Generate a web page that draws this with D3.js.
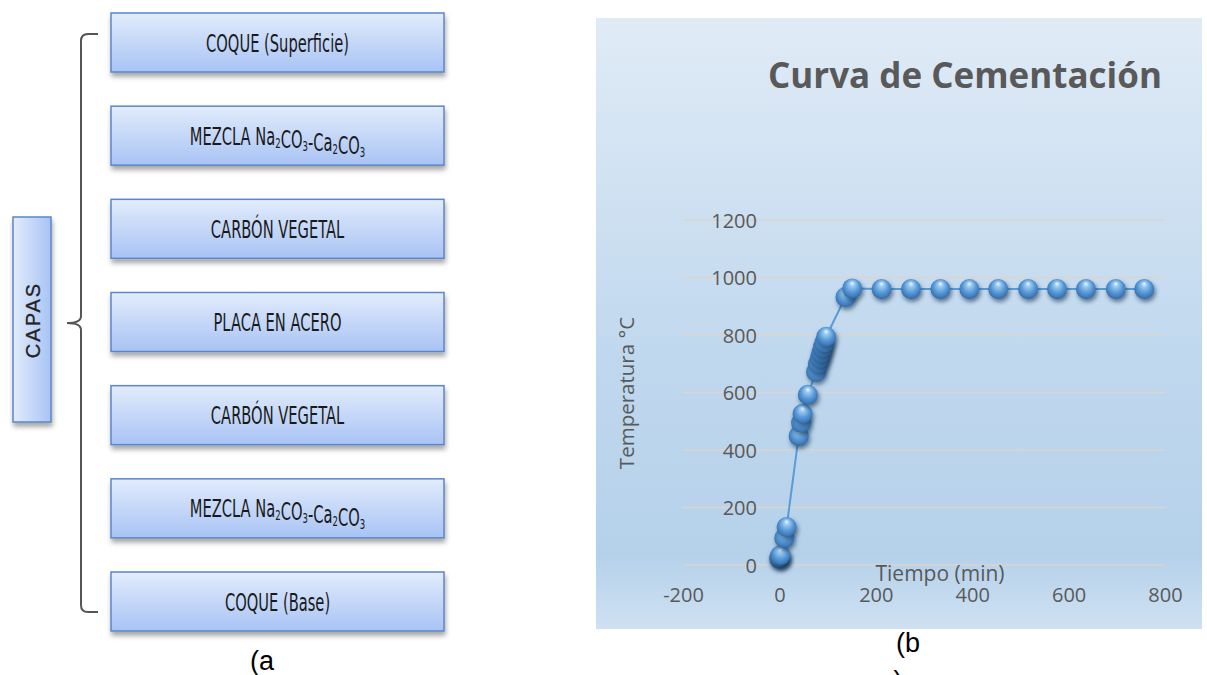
<!DOCTYPE html>
<html><head><meta charset="utf-8">
<script src="https://cdn.jsdelivr.net/npm/d3@7"></script>
<style>
html,body{margin:0;padding:0;background:#fff;}
svg{display:block;}
</style></head>
<body>
<svg id="c" width="1207" height="675"></svg>
<script>
// ---- data ----
const capas = ["COQUE (Superficie)", "MEZCLA Na2CO3-Ca2CO3", "CARBÓN VEGETAL", "PLACA EN ACERO", "CARBÓN VEGETAL", "MEZCLA Na2CO3-Ca2CO3", "COQUE (Base)"];
const grupo = "CAPAS";
const tiempo = [0, 0, 2, 10, 15, 40, 45, 48, 59, 76, 80, 84, 87, 90, 93, 97, 137, 151, 212, 273, 334, 394, 454, 516, 576, 636, 698, 757];
const temperatura = [22, 28, 34, 94, 132, 449, 495, 526, 592, 672, 700, 720, 738, 756, 773, 794, 932, 962, 960, 960, 960, 960, 960, 960, 960, 960, 960, 960];
const xTicks = [-200, 0, 200, 400, 600, 800];
const yTicks = [0, 200, 400, 600, 800, 1000, 1200];
const titulo = "Curva de Cementación";
const xTitulo = "Tiempo (min)";
const yTitulo = "Temperatura °C";
const etiquetaA = "(a";
const etiquetaB = "(b";

const svg = d3.select("#c");
const defs = svg.append("defs");

// box gradient
const bg = defs.append("linearGradient").attr("id","boxg").attr("x1",0).attr("y1",0).attr("x2",0).attr("y2",1);
bg.append("stop").attr("offset","0%").attr("stop-color","#e2ecfc");
bg.append("stop").attr("offset","100%").attr("stop-color","#a8c3f4");
const bgh = defs.append("linearGradient").attr("id","boxh").attr("x1",0).attr("y1",0).attr("x2",1).attr("y2",0);
bgh.append("stop").attr("offset","0%").attr("stop-color","#e2ecfc");
bgh.append("stop").attr("offset","100%").attr("stop-color","#a8c3f4");

const sh = defs.append("filter").attr("id","boxsh").attr("x","-10%").attr("y","-20%").attr("width","130%").attr("height","160%");
sh.append("feDropShadow").attr("dx",1).attr("dy",4).attr("stdDeviation",2.5).attr("flood-color","#000").attr("flood-opacity",0.35);

// chart bg
const cg = defs.append("linearGradient").attr("id","chartg").attr("x1",0).attr("y1",0).attr("x2",0).attr("y2",1);
cg.append("stop").attr("offset","0%").attr("stop-color","#e0ebf6");
cg.append("stop").attr("offset","55%").attr("stop-color","#c0d8ee");
cg.append("stop").attr("offset","88%").attr("stop-color","#b5d1ea");
cg.append("stop").attr("offset","100%").attr("stop-color","#cfe1f2");

// sphere
const sg = defs.append("radialGradient").attr("id","sph").attr("cx","50%").attr("cy","45%").attr("r","55%").attr("fx","50%").attr("fy","22%");
sg.append("stop").attr("offset","0%").attr("stop-color","#f2f9ff");
sg.append("stop").attr("offset","22%").attr("stop-color","#9ccbf2");
sg.append("stop").attr("offset","60%").attr("stop-color","#5a9ad8");
sg.append("stop").attr("offset","90%").attr("stop-color","#3b78b8");
sg.append("stop").attr("offset","100%").attr("stop-color","#2e6399");
const ssh = defs.append("filter").attr("id","sphsh").attr("x","-50%").attr("y","-50%").attr("width","220%").attr("height","220%");
ssh.append("feDropShadow").attr("dx",1.5).attr("dy",3).attr("stdDeviation",2.2).attr("flood-color","#0b2a4d").attr("flood-opacity",0.6);

// ---- left diagram ----
const boxX = 111, boxW = 333, boxH = 59;
const yBand = d3.scalePoint().domain(d3.range(capas.length)).range([13, 572]);

function addLabel(sel, str){
  const parts = str.match(/[A-Za-zÁÉÍÓÚÑáéíóúñ()\- ]+|\d+/g);
  parts.forEach(p=>{
    if(/^\d+$/.test(p)){
      sel.append("tspan").attr("font-size","14px").attr("dy",3).text(p);
      sel.append("tspan").attr("dy",-3).text("");
    } else sel.append("tspan").text(p);
  });
}

const g1 = svg.append("g");
capas.forEach((c,i)=>{
  const y = yBand(i);
  g1.append("rect").attr("x",boxX).attr("y",y).attr("width",boxW).attr("height",boxH)
    .attr("fill","url(#boxg)").attr("stroke","#5b86c9").attr("stroke-width",1.5).attr("filter","url(#boxsh)");
  const t = g1.append("text")
    .attr("transform",`translate(${boxX+boxW/2},${y+boxH/2+9}) scale(0.68,1)`)
    .attr("text-anchor","middle").attr("font-family","'DejaVu Sans Condensed','DejaVu Sans',sans-serif")
    .attr("font-size","24px").attr("fill","#1a1a1a");
  addLabel(t, c);
});

// CAPAS box
g1.append("rect").attr("x",13).attr("y",217).attr("width",38).attr("height",205)
  .attr("fill","url(#boxh)").attr("stroke","#5b86c9").attr("stroke-width",1.5).attr("filter","url(#boxsh)");
g1.append("text").attr("transform","translate(40,320) rotate(-90)").attr("text-anchor","middle")
  .attr("font-family","'Liberation Sans',Arial,sans-serif").attr("font-size","20px").attr("letter-spacing","2px")
  .attr("fill","#222").attr("stroke","#222").attr("stroke-width",0.3).text(grupo);

// brace
const brace = d3.path();
brace.moveTo(98,34); brace.lineTo(88,34); brace.quadraticCurveTo(81,34,81,41);
brace.lineTo(81,316); brace.quadraticCurveTo(81,323,67,323); brace.quadraticCurveTo(81,323,81,330);
brace.lineTo(81,605); brace.quadraticCurveTo(81,612,88,612); brace.lineTo(98,612);
g1.append("path").attr("d",brace.toString()).attr("fill","none").attr("stroke","#555").attr("stroke-width",2);

svg.append("text").attr("x",262).attr("y",670).attr("text-anchor","middle")
  .attr("font-family","'Liberation Sans',Arial,sans-serif").attr("font-size","27px").attr("fill","#000").text(etiquetaA);

// ---- chart ----
svg.append("rect").attr("x",596).attr("y",18).attr("width",606).attr("height",611).attr("fill","url(#chartg)");

const x = d3.scaleLinear().domain([-200,800]).range([683,1165]);
const y = d3.scaleLinear().domain([0,1200]).range([565,220]);
const font = "'Open Sans','Noto Sans',sans-serif";

// gridlines
svg.append("g").selectAll("line").data(yTicks).join("line")
  .attr("x1",x(-200)).attr("x2",x(800)).attr("y1",d=>y(d)).attr("y2",d=>y(d))
  .attr("stroke","#d9d5cf").attr("stroke-width",1.6);

// y axis labels
const yAxis = d3.axisLeft(y).tickValues(yTicks).tickSize(0).tickPadding(0).tickFormat(d=>String(d));
const ya = svg.append("g").attr("transform","translate(757,0)").call(yAxis);
ya.select(".domain").remove();
ya.selectAll("text").attr("font-family",font).attr("font-size","20px").attr("fill","#595959").attr("dy","0.35em");

// x axis labels
const xAxis = d3.axisBottom(x).tickValues(xTicks).tickSize(0).tickPadding(0).tickFormat(d=>String(d));
const xa = svg.append("g").attr("transform","translate(0,588)").call(xAxis);
xa.select(".domain").remove();
xa.selectAll("text").attr("font-family",font).attr("font-size","20px").attr("fill","#595959").attr("dy","0.71em");

// titles
svg.append("text").attr("x",965).attr("y",88).attr("text-anchor","middle").attr("font-family",font)
  .attr("font-weight","bold").attr("font-size","35px").attr("fill","#595959").text(titulo);
svg.append("text").attr("x",940).attr("y",581).attr("text-anchor","middle").attr("font-family",font)
  .attr("font-size","21px").attr("fill","#595959").text(xTitulo);
svg.append("text").attr("transform","translate(634,393) rotate(-90)").attr("text-anchor","middle").attr("font-family",font)
  .attr("font-size","20.5px").attr("fill","#595959").text(yTitulo);

// series
const pts = tiempo.map((t,i)=>({t, v: temperatura[i]}));
svg.append("path").datum(pts).attr("fill","none").attr("stroke","#5b9bd5").attr("stroke-width",2)
  .attr("d", d3.line().x(d=>x(d.t)).y(d=>y(d.v)));
svg.append("g").selectAll("circle").data(pts).join("circle")
  .attr("cx",d=>x(d.t)).attr("cy",d=>y(d.v)).attr("r",10)
  .attr("fill","url(#sph)").attr("filter","url(#sphsh)");

svg.append("text").attr("x",908).attr("y",652).attr("text-anchor","middle")
  .attr("font-family","'Liberation Sans',Arial,sans-serif").attr("font-size","27px").attr("fill","#000").text(etiquetaB);
svg.append("text").attr("x",898).attr("y",690).attr("text-anchor","middle")
  .attr("font-family","'Liberation Sans',Arial,sans-serif").attr("font-size","27px").attr("fill","#000").text(")");
</script>
</body></html>
